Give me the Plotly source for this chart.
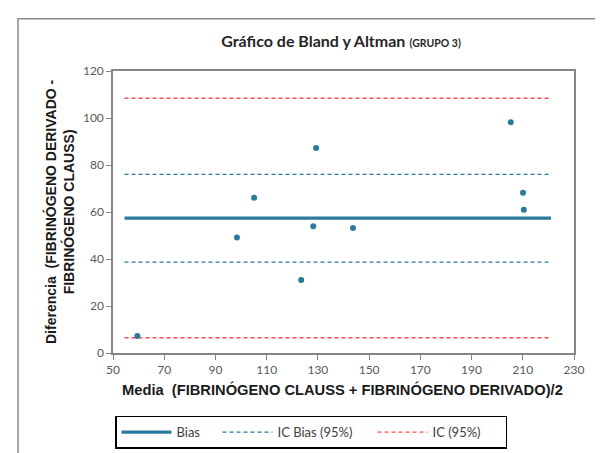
import plotly.graph_objects as go

# Data
media = [59.5, 98.4, 105.1, 123.5, 128.2, 129.3, 143.7, 205.3, 210.1, 210.4]
diferencia = [7.2, 49.1, 66.1, 31.1, 53.9, 87.2, 53.2, 98.2, 68.2, 61.0]
line_x = [54.5, 221.0]
bias = 57.4
ic_bias = [76.0, 38.7]
ic = [108.4, 6.5]
x_ticks = [50, 70, 90, 110, 130, 150, 170, 190, 210, 230]
y_ticks = [0, 20, 40, 60, 80, 100, 120]

BLUE = "#2b7a9e"
RED = "#ff4d4d"
GRAY = "#868686"

fig = go.Figure()

fig.add_trace(go.Scatter(x=line_x, y=[bias, bias], mode="lines",
                         line=dict(color=BLUE, width=3.2), name="Bias",
                         legendwidth=36))
fig.add_trace(go.Scatter(x=line_x, y=[ic_bias[0]] * 2, mode="lines",
                         line=dict(color=BLUE, width=1.3, dash="4px,3px"),
                         name="IC Bias (95%)", legendgroup="icb", legendwidth=90))
fig.add_trace(go.Scatter(x=line_x, y=[ic_bias[1]] * 2, mode="lines",
                         line=dict(color=BLUE, width=1.3, dash="4px,3px"),
                         name="IC Bias (95%)", legendgroup="icb", showlegend=False))
fig.add_trace(go.Scatter(x=line_x, y=[ic[0]] * 2, mode="lines",
                         line=dict(color=RED, width=1.3, dash="4px,3px"),
                         name="IC (95%)", legendgroup="ic", legendwidth=68))
fig.add_trace(go.Scatter(x=line_x, y=[ic[1]] * 2, mode="lines",
                         line=dict(color=RED, width=1.3, dash="4px,3px"),
                         name="IC (95%)", legendgroup="ic", showlegend=False))
fig.add_trace(go.Scatter(x=media, y=diferencia, mode="markers",
                         marker=dict(color=BLUE, size=6), showlegend=False,
                         name="Datos"))

L, R, T, B = 105, 37, 63, 98
W, H = 603, 453
pw, ph = W - L - R, H - T - B

def px_x(px):
    return (px - L) / pw

def px_y(py):
    return (H - B - py) / ph

fig.update_layout(
    width=W, height=H,
    margin=dict(l=L, r=R, t=T, b=B, pad=0),
    paper_bgcolor="white", plot_bgcolor="white",
    font=dict(family="Lato, Open Sans, sans-serif", color="#404040", size=12),
    title=dict(
        text="<b>Gráfico de Bland y Altman</b> <b><span style='font-size:10.5px'>(GRUPO 3)</span></b>",
        x=px_x(333), xref="paper", xanchor="center",
        y=1 - 33 / H, yref="container", yanchor="middle",
        font=dict(family="Lato, Open Sans, sans-serif", size=16, color="#262626"),
    ),
    xaxis=dict(
        range=[50, 230], tickvals=x_ticks, showgrid=False, zeroline=False,
        showline=True, linecolor=GRAY, linewidth=1.5, mirror=True,
        ticks="outside", ticklen=5, tickcolor=GRAY,
        tickfont=dict(size=12, color="#595959"),
    ),
    yaxis=dict(
        range=[0, 120], tickvals=y_ticks, showgrid=False, zeroline=False,
        showline=True, linecolor=GRAY, linewidth=1.5, mirror=True,
        ticks="outside", ticklen=5, tickcolor=GRAY,
        tickfont=dict(size=12, color="#595959"),
    ),
    legend=dict(
        orientation="h", x=px_x(303), xanchor="center",
        y=px_y(420), yanchor="top",
        bordercolor="black", borderwidth=1.5, bgcolor="white",
        font=dict(size=13, color="#404040"),
        traceorder="normal", itemwidth=50,
    ),
    shapes=[dict(type="rect", xref="paper", yref="paper",
                 x0=px_x(10), x1=px_x(595), y0=px_y(470), y1=px_y(9),
                 line=dict(color="#8c8c8c", width=1.5), layer="below")],
    annotations=[
        dict(text="<b>Diferencia  (FIBRINÓGENO DERIVADO -<br>FIBRINÓGENO CLAUSS)</b>",
             xref="paper", yref="paper", x=px_x(51), y=0.5,
             xanchor="center", yanchor="middle", textangle=-90, showarrow=False,
             font=dict(family="Liberation Sans, Arial, sans-serif", size=14, color="#1a1a1a")),
        dict(text="<b>Media  (FIBRINÓGENO CLAUSS + FIBRINÓGENO DERIVADO)/2</b>",
             xref="paper", yref="paper", x=px_x(334), y=px_y(393),
             xanchor="center", yanchor="middle", showarrow=False,
             font=dict(family="Liberation Sans, Arial, sans-serif", size=14.7, color="#1a1a1a")),
    ],
)

fig.write_html("out.html")
